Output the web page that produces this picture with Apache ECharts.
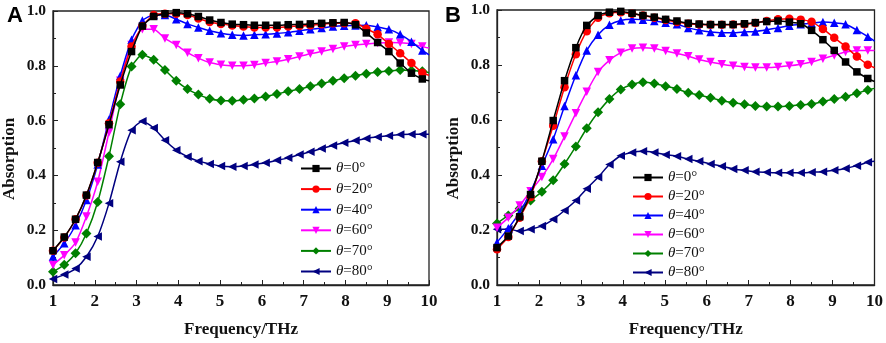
<!DOCTYPE html>
<html>
<head>
<meta charset="utf-8">
<script src="https://cdn.jsdelivr.net/npm/echarts@6/dist/echarts.min.js"></script>
<style>
  html, body { margin: 0; padding: 0; background: #fff; }
  #chart { width: 886px; height: 343px; }
</style>
</head>
<body>
<div id="chart"></div>
<script>
// Frequency (THz) of every marker; the last point (10) only closes the line
const freq = [1, 1.27, 1.54, 1.8, 2.07, 2.34, 2.61, 2.88, 3.14, 3.41, 3.68, 3.95, 4.22, 4.48,
  4.75, 5.02, 5.29, 5.56, 5.82, 6.09, 6.36, 6.63, 6.9, 7.16, 7.43, 7.7, 7.97, 8.24, 8.5,
  8.77, 9.04, 9.31, 9.58, 9.84, 10];

const angleNames = ["θ=0°", "θ=20°", "θ=40°", "θ=60°", "θ=70°", "θ=80°"];
const colors = ["#000000", "#ff0000", "#0000ff", "#ff00ff", "#008000", "#000080"];
const symbols = ["rect", "circle", "triangle", "triangle", "diamond", "triangle"];
const symbolRotates = [0, 0, 0, 180, 0, 90];

// Panel A
const a0 = [0.125, 0.175, 0.24, 0.328, 0.447, 0.585, 0.73, 0.852, 0.945, 0.98, 0.99, 0.994, 0.99, 0.98,
  0.967, 0.958, 0.952, 0.95, 0.948, 0.948, 0.948, 0.95, 0.951, 0.953, 0.955, 0.957, 0.958, 0.95, 0.92,
  0.885, 0.852, 0.81, 0.773, 0.752, 0.745];
const a20 = [0.125, 0.173, 0.24, 0.327, 0.446, 0.59, 0.743, 0.87, 0.945, 0.985, 0.99, 0.99, 0.985, 0.973,
  0.96, 0.953, 0.947, 0.943, 0.94, 0.94, 0.94, 0.943, 0.945, 0.948, 0.952, 0.955, 0.955, 0.955, 0.935,
  0.915, 0.88, 0.846, 0.81, 0.775, 0.765];
const a40 = [0.104, 0.152, 0.218, 0.31, 0.44, 0.604, 0.764, 0.895, 0.965, 0.985, 0.985, 0.97, 0.953, 0.94,
  0.928, 0.919, 0.913, 0.911, 0.913, 0.915, 0.918, 0.922, 0.928, 0.933, 0.938, 0.943, 0.946, 0.947, 0.948,
  0.942, 0.933, 0.915, 0.888, 0.856, 0.84];
const a60 = [0.073, 0.109, 0.155, 0.25, 0.377, 0.557, 0.745, 0.876, 0.933, 0.933, 0.9, 0.876, 0.848, 0.828,
  0.812, 0.804, 0.8, 0.8, 0.803, 0.81, 0.816, 0.824, 0.834, 0.844, 0.852, 0.861, 0.87, 0.876, 0.88,
  0.883, 0.885, 0.884, 0.88, 0.87, 0.865];
const a70 = [0.048, 0.074, 0.116, 0.188, 0.303, 0.47, 0.66, 0.797, 0.84, 0.822, 0.785, 0.745, 0.715, 0.695,
  0.68, 0.673, 0.672, 0.676, 0.681, 0.688, 0.697, 0.707, 0.715, 0.725, 0.735, 0.745, 0.755, 0.764, 0.771,
  0.777, 0.781, 0.785, 0.783, 0.78, 0.775];
const a80 = [0.022, 0.038, 0.06, 0.103, 0.177, 0.298, 0.45, 0.565, 0.598, 0.573, 0.528, 0.492, 0.468, 0.452,
  0.442, 0.434, 0.432, 0.434, 0.44, 0.446, 0.455, 0.464, 0.476, 0.486, 0.498, 0.509, 0.519, 0.527, 0.535,
  0.54, 0.545, 0.549, 0.55, 0.55, 0.55];

// Panel B
const b0 = [0.136, 0.178, 0.248, 0.329, 0.45, 0.598, 0.743, 0.863, 0.944, 0.98, 0.992, 0.995, 0.988, 0.98,
  0.974, 0.966, 0.96, 0.952, 0.949, 0.947, 0.947, 0.947, 0.95, 0.954, 0.958, 0.96, 0.956, 0.95, 0.926,
  0.892, 0.853, 0.811, 0.775, 0.751, 0.74];
const b20 = [0.13, 0.175, 0.245, 0.32, 0.45, 0.579, 0.719, 0.839, 0.923, 0.972, 0.988, 0.992, 0.986, 0.98,
  0.972, 0.964, 0.956, 0.95, 0.947, 0.946, 0.946, 0.947, 0.948, 0.953, 0.96, 0.966, 0.968, 0.965, 0.957,
  0.931, 0.899, 0.867, 0.831, 0.801, 0.79];
const b40 = [0.155, 0.206, 0.264, 0.338, 0.434, 0.53, 0.651, 0.763, 0.853, 0.91, 0.946, 0.962, 0.966, 0.965,
  0.96, 0.954, 0.948, 0.935, 0.926, 0.92, 0.917, 0.917, 0.92, 0.922, 0.928, 0.935, 0.943, 0.948, 0.952,
  0.956, 0.954, 0.948, 0.927, 0.903, 0.887];
const b60 = [0.208, 0.245, 0.289, 0.341, 0.393, 0.458, 0.54, 0.625, 0.703, 0.775, 0.817, 0.845, 0.86, 0.863,
  0.86, 0.851, 0.842, 0.832, 0.82, 0.811, 0.803, 0.797, 0.793, 0.791, 0.791, 0.793, 0.797, 0.803, 0.811,
  0.823, 0.835, 0.847, 0.853, 0.853, 0.853];
const b70 = [0.224, 0.253, 0.278, 0.307, 0.339, 0.381, 0.44, 0.504, 0.57, 0.628, 0.676, 0.711, 0.729, 0.737,
  0.733, 0.723, 0.713, 0.699, 0.691, 0.681, 0.67, 0.663, 0.657, 0.651, 0.649, 0.649, 0.651, 0.655, 0.658,
  0.667, 0.676, 0.685, 0.697, 0.709, 0.715];
const b80 = [0.203, 0.203, 0.196, 0.203, 0.215, 0.239, 0.271, 0.307, 0.35, 0.392, 0.438, 0.47, 0.482, 0.486,
  0.482, 0.474, 0.468, 0.458, 0.45, 0.44, 0.432, 0.422, 0.417, 0.412, 0.41, 0.408, 0.408, 0.408, 0.41,
  0.412, 0.417, 0.424, 0.434, 0.446, 0.45];

const panelA = [a0, a20, a40, a60, a70, a80];
const panelB = [b0, b20, b40, b60, b70, b80];

const SERIF = "'Liberation Serif', 'Times New Roman', serif";

function buildPoints(values) {
  return values.map((v, i) =>
    i === freq.length - 1 ? { value: [freq[i], v], symbol: "none" } : [freq[i], v]
  );
}

function buildSeries(panel, gridIndex) {
  return panel.map((values, k) => ({
    name: angleNames[k],
    type: "line",
    xAxisIndex: gridIndex,
    yAxisIndex: gridIndex,
    data: buildPoints(values),
    symbol: symbols[k],
    symbolRotate: symbolRotates[k],
    symbolSize: k === 4 ? 10 : k === 0 ? 7.5 : 8.5,
    smooth: 0.2,
    color: colors[k],
    lineStyle: { width: 1.5, color: colors[k] },
    itemStyle: { color: colors[k] },
    z: 10 - k,
    animation: false,
  }));
}

function xAxisFor(gridIndex) {
  return {
    type: "value",
    gridIndex,
    min: 1,
    max: 10,
    interval: 1,
    name: "Frequency/THz",
    nameLocation: "middle",
    nameGap: 36,
    nameTextStyle: { fontFamily: SERIF, fontWeight: "bold", fontSize: 17, color: "#111" },
    axisLine: { onZero: false, lineStyle: { color: "#222", width: 1.3 } },
    axisTick: { inside: true, length: 5, lineStyle: { color: "#222" } },
    minorTick: { show: true, splitNumber: 2, length: 3, lineStyle: { color: "#222" } },
    axisLabel: { margin: 8, fontFamily: SERIF, fontWeight: "bold", fontSize: 17, color: "#111" },
    splitLine: { show: false },
  };
}

function yAxisFor(gridIndex) {
  return {
    type: "value",
    gridIndex,
    min: 0,
    max: 1,
    interval: 0.2,
    name: "Absorption",
    nameLocation: "middle",
    nameGap: 35,
    nameTextStyle: {
      fontFamily: SERIF, fontWeight: "bold", fontSize: 17, color: "#111",
      padding: [0, 22, 0, 0],
    },
    axisLine: { onZero: false, lineStyle: { color: "#222", width: 1.3 } },
    axisTick: { inside: true, length: 5, lineStyle: { color: "#222" } },
    minorTick: { show: true, splitNumber: 2, length: 3, lineStyle: { color: "#222" } },
    axisLabel: {
      margin: 7, fontFamily: SERIF, fontWeight: "bold", fontSize: 15.5, color: "#111",
      formatter: (v) => v.toFixed(1),
    },
    splitLine: { show: false },
  };
}

function legendFor(left, top, gap) {
  return {
    data: angleNames,
    orient: "vertical",
    left,
    top,
    itemWidth: 30,
    itemHeight: 9,
    itemGap: gap,
    selectedMode: false,
    formatter: (name) => "{t|θ}" + name.slice(1),
    textStyle: {
      fontFamily: SERIF, fontSize: 15, color: "#111", lineHeight: 14,
      rich: { t: { fontFamily: SERIF, fontStyle: "italic", fontSize: 15, lineHeight: 14 } },
    },
  };
}

const chart = echarts.init(document.getElementById("chart"), null, { renderer: "canvas" });

chart.setOption({
  backgroundColor: "#fff",
  animation: false,
  title: [
    { text: "A", left: 2, top: 0, textStyle: { fontFamily: "'Liberation Sans', Arial", fontWeight: "bold", fontSize: 22, color: "#000" } },
    { text: "B", left: 440, top: 0, textStyle: { fontFamily: "'Liberation Sans', Arial", fontWeight: "bold", fontSize: 22, color: "#000" } },
  ],
  grid: [
    { left: 52, top: 11, width: 377, height: 275, show: true, borderColor: "#222", borderWidth: 1.3, backgroundColor: "transparent" },
    { left: 497, top: 10, width: 378, height: 276, show: true, borderColor: "#222", borderWidth: 1.3, backgroundColor: "transparent" },
  ],
  xAxis: [xAxisFor(0), xAxisFor(1)],
  yAxis: [yAxisFor(0), yAxisFor(1)],
  legend: [legendFor(295, 156, 5.6), legendFor(627, 165, 4.0)],
  series: [...buildSeries(panelA, 0), ...buildSeries(panelB, 1)],
});
</script>
</body>
</html>
